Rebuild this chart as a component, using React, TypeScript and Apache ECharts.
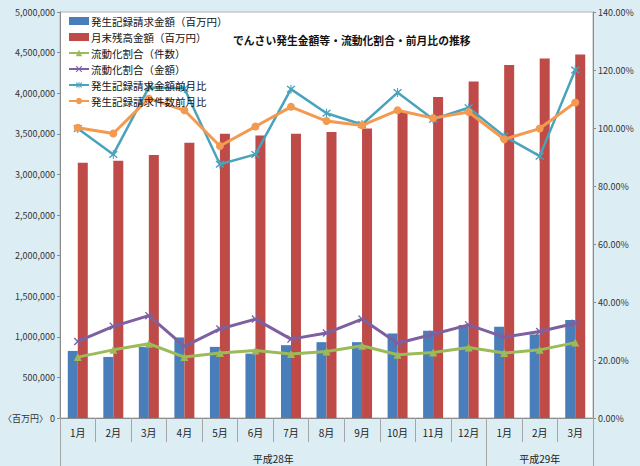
import React, { useEffect, useRef } from "react";
import * as echarts from "echarts";

const months = ["1月", "2月", "3月", "4月", "5月", "6月", "7月", "8月", "9月", "10月", "11月", "12月", "1月", "2月", "3月"];
const yearGroups = [
  { label: "平成28年", start: 0, end: 12 },
  { label: "平成29年", start: 12, end: 15 },
];
const issuedAmount = [826000, 752000, 876000, 992000, 876000, 793000, 897000, 934000, 934000, 1041000, 1074000, 1145000, 1124000, 1029000, 1207000];
const balanceAmount = [3144000, 3169000, 3238000, 3391000, 3502000, 3478000, 3502000, 3522000, 3564000, 3781000, 3954000, 4144000, 4346000, 4428000, 4478000];
const liquidCount = [21.0, 23.5, 25.6, 21.0, 22.4, 23.3, 22.1, 22.9, 24.9, 21.8, 22.6, 24.3, 22.4, 23.5, 26.0];
const liquidAmount = [26.4, 31.6, 35.3, 24.7, 30.7, 34.1, 27.2, 29.3, 34.1, 25.8, 28.9, 32.1, 27.9, 29.8, 32.7];
const amountMoM = [99.8, 90.9, 114.0, 113.6, 87.5, 90.9, 113.4, 105.1, 101.2, 112.2, 103.0, 107.0, 97.2, 90.3, 120.0];
const countMoM = [100.1, 98.1, 110.2, 106.1, 93.8, 100.5, 107.3, 102.4, 100.9, 106.1, 103.4, 105.5, 96.1, 99.8, 108.8];

const FONT = "'Noto Sans CJK JP', 'Noto Sans', sans-serif";
const X_SYMBOL = "path://M0,1.2 L1.2,0 L5,3.8 L8.8,0 L10,1.2 L6.2,5 L10,8.8 L8.8,10 L5,6.2 L1.2,10 L0,8.8 L3.8,5 Z";
const AST_SYMBOL = "path://M0,1.2 L1.2,0 L5,3.8 L8.8,0 L10,1.2 L6.2,5 L10,8.8 L8.8,10 L5,6.2 L1.2,10 L0,8.8 L3.8,5 Z M4.4,-1 L5.6,-1 L5.6,11 L4.4,11 Z";

export default function App() {
  const ref = useRef<HTMLDivElement>(null);
  useEffect(() => {
    const el = ref.current as HTMLDivElement;
    const chart = echarts.init(el, null, { renderer: "svg" });
    const lineCommon = { type: "line", yAxisIndex: 1, smooth: false, showSymbol: true };
    chart.setOption({
      animation: false,
      backgroundColor: "#dcedf4",
      textStyle: { fontFamily: FONT },
      title: {
        text: "でんさい発生金額等・流動化割合・前月比の推移",
        left: 228,
        top: 30,
        textStyle: { fontSize: 10.8, fontWeight: "bold", color: "#111", fontFamily: FONT },
      },
      legend: {
        orient: "vertical",
        left: 68,
        top: 14,
        itemWidth: 20,
        itemHeight: 8,
        itemGap: 2,
        padding: 0,
        textStyle: { fontSize: 10.5, lineHeight: 14, color: "#111", fontFamily: FONT, padding: [0, 0, 0, -3] },
        data: [
          { name: "発生記録請求金額（百万円）", icon: "rect" },
          { name: "月末残高金額（百万円）", icon: "rect" },
          "流動化割合（件数）",
          "流動化割合（金額）",
          "発生記録請求金額前月比",
          "発生記録請求件数前月比",
        ],
      },
      grid: {
        left: 59,
        right: 47,
        top: 12,
        bottom: 48,
        show: true,
        backgroundColor: "#ffffff",
        borderColor: "#b4b4b4",
        borderWidth: 1,
      },
      xAxis: {
        type: "category",
        data: months,
        axisLine: { lineStyle: { color: "#8c8c8c" } },
        axisTick: { show: true, interval: 0, length: 24, lineStyle: { color: "#a6a6a6" } },
        axisLabel: { interval: 0, margin: 9, fontSize: 10, color: "#222", fontFamily: FONT },
      },
      yAxis: [
        {
          type: "value",
          min: 0,
          max: 5000000,
          interval: 500000,
          axisLine: { show: true, lineStyle: { color: "#8c8c8c" } },
          axisTick: { show: true, length: 3, lineStyle: { color: "#8c8c8c" } },
          splitLine: { show: false },
          axisLabel: {
            fontSize: 9,
            color: "#333",
            margin: 5,
            fontFamily: FONT,
            formatter: (v: number) => (v === 0 ? "〈百万円〉 0" : v.toLocaleString("en-US")),
          },
        },
        {
          type: "value",
          min: 0,
          max: 140,
          interval: 20,
          position: "right",
          axisLine: { show: true, lineStyle: { color: "#8c8c8c" } },
          axisTick: { show: true, length: 3, lineStyle: { color: "#8c8c8c" } },
          splitLine: { show: false },
          axisLabel: {
            fontSize: 9,
            color: "#333",
            margin: 5,
            fontFamily: FONT,
            formatter: (v: number) => v.toFixed(2) + "%",
          },
        },
      ],
      series: [
        {
          name: "発生記録請求金額（百万円）",
          type: "bar",
          data: issuedAmount,
          barWidth: 10,
          barGap: "0%",
          itemStyle: { color: "#4a7ebb" },
        },
        {
          name: "月末残高金額（百万円）",
          type: "bar",
          data: balanceAmount,
          barWidth: 10,
          itemStyle: { color: "#be4b48" },
        },
        {
          ...lineCommon,
          name: "流動化割合（件数）",
          data: liquidCount,
          symbol: "triangle",
          symbolSize: 8,
          lineStyle: { color: "#9bbb59", width: 3 },
          itemStyle: { color: "#9bbb59" },
        },
        {
          ...lineCommon,
          name: "流動化割合（金額）",
          data: liquidAmount,
          symbol: X_SYMBOL,
          symbolSize: 8,
          lineStyle: { color: "#7e60a1", width: 3 },
          itemStyle: { color: "#7e60a1" },
        },
        {
          ...lineCommon,
          name: "発生記録請求金額前月比",
          data: amountMoM,
          symbol: AST_SYMBOL,
          symbolSize: 9,
          lineStyle: { color: "#4aa3bc", width: 2.5 },
          itemStyle: { color: "#4aa3bc" },
        },
        {
          ...lineCommon,
          name: "発生記録請求件数前月比",
          data: countMoM,
          symbol: "circle",
          symbolSize: 8,
          lineStyle: { color: "#f39a50", width: 3 },
          itemStyle: { color: "#f39a50" },
        },
      ],
    });

    const p0 = chart.convertToPixel({ xAxisIndex: 0 }, 0) as number;
    const p1 = chart.convertToPixel({ xAxisIndex: 0 }, 1) as number;
    const w = p1 - p0;
    const boundary = (i: number) => p0 - w / 2 + i * w;
    const axisY = chart.convertToPixel({ yAxisIndex: 0 }, 0) as number;
    const bottomY = el.clientHeight;
    const graphics: any[] = [];
    const bounds = new Set<number>();
    yearGroups.forEach((g) => {
      bounds.add(g.start);
      bounds.add(g.end);
      graphics.push({
        type: "text",
        x: (boundary(g.start) + boundary(g.end)) / 2,
        y: axisY + 40,
        style: {
          text: g.label,
          fontSize: 10,
          fontFamily: FONT,
          fill: "#222",
          align: "center",
          verticalAlign: "middle",
        },
      });
    });
    bounds.forEach((b) => {
      const x = Math.round(boundary(b)) + 0.5;
      graphics.push({
        type: "line",
        shape: { x1: x, y1: axisY, x2: x, y2: bottomY },
        style: { stroke: "#a6a6a6", lineWidth: 1 },
      });
    });
    chart.setOption({ graphic: graphics });

    return () => chart.dispose();
  }, []);
  return <div ref={ref} style={{ position: "fixed", left: 0, top: 0, width: 640, height: 466 }} />;
}
